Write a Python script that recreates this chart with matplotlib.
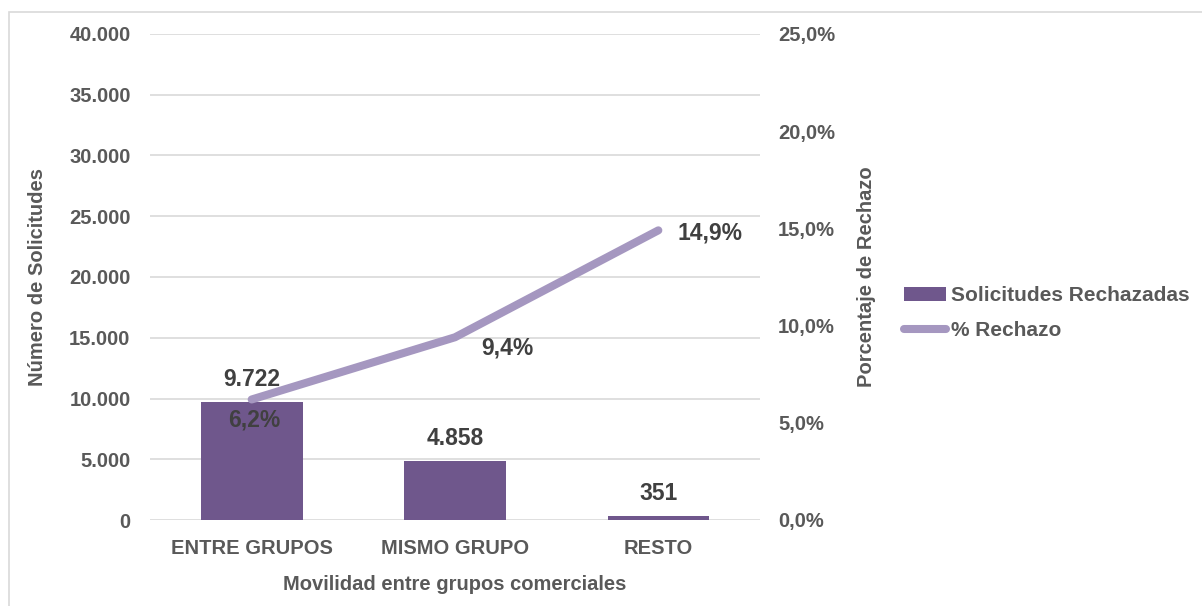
import matplotlib
matplotlib.use('Agg')

import matplotlib.pyplot as plt
from matplotlib.patches import Rectangle
from matplotlib.ticker import FuncFormatter

plt.rcParams['font.family'] = ['Liberation Sans', 'DejaVu Sans']
plt.rcParams['font.weight'] = 'bold'
plt.rcParams['axes.labelweight'] = 'bold'

# data
categories = ['ENTRE GRUPOS', 'MISMO GRUPO', 'RESTO']
rechazadas = [9722, 4858, 351]
pct_rechazo = [6.2, 9.4, 14.9]
left_ticks = [0, 5000, 10000, 15000, 20000, 25000, 30000, 35000, 40000]
right_ticks = [0, 5, 10, 15, 20, 25]

BAR = '#6f578c'
LINE = '#a597c0'
TICK = '#595959'
LABEL = '#404040'
GRID = '#d9d9d9'

W, H = 1202, 606
fig = plt.figure(figsize=(W / 100, H / 100), dpi=100)

# light frame around the chart
fig.patches.append(Rectangle((8.5 / W, -0.05), 1.2, 1.05 - 12 / H,
                             transform=fig.transFigure, fill=False,
                             edgecolor=GRID, lw=1.2))

ax = fig.add_axes([150 / W, (H - 520) / H, 610 / W, 486 / H])
ax2 = ax.twinx()

x = list(range(len(categories)))
bars = ax.bar(x, rechazadas, width=0.5, color=BAR, label='Solicitudes Rechazadas', zorder=2)
ln, = ax2.plot(x, pct_rechazo, color=LINE, lw=5.8, solid_capstyle='round',
               label='% Rechazo', zorder=3)

ax.set_xlim(-0.5, 2.5)
ax.set_ylim(0, 40000)
ax2.set_ylim(0, 25)
ax.set_yticks(left_ticks)
ax2.set_yticks(right_ticks)
ax.yaxis.set_major_formatter(FuncFormatter(lambda v, p: f'{int(v):,}'.replace(',', '.')))
ax2.yaxis.set_major_formatter(FuncFormatter(lambda v, p: f'{v:.1f}%'.replace('.', ',')))
ax.set_xticks(x)
ax.set_xticklabels(categories)

ax.grid(axis='y', color=GRID, lw=1.2, zorder=0)
ax.set_axisbelow(True)
for a in (ax, ax2):
    for s in a.spines.values():
        s.set_visible(False)
    a.tick_params(length=0, labelsize=14.5, labelcolor=TICK)
ax.tick_params(axis='y', pad=14)
ax2.tick_params(axis='y', pad=13)
ax.tick_params(axis='x', pad=14)

ax.set_xlabel('Movilidad entre grupos comerciales', fontsize=14.5, color=TICK,
              fontweight='bold', labelpad=12)
ax.set_ylabel('Número de Solicitudes', fontsize=14.5, color=TICK, fontweight='bold')
ax2.set_ylabel('Porcentaje de Rechazo', fontsize=14.5, color=TICK, fontweight='bold')
ax.yaxis.set_label_coords(-(150 - 47) / 610, 0.5)
ax2.yaxis.set_label_coords((857 - 150) / 610, 0.5)

# data labels
for xi, v in zip(x, rechazadas):
    ax.annotate(f'{v:,}'.replace(',', '.'), (xi, v), xytext=(0, 16), textcoords='offset points',
                ha='center', va='center', fontsize=16.5, color=LABEL)

pct_offsets = [(2, -15), (38, -8), (37, -2)]
for xi, v, off in zip(x, pct_rechazo, pct_offsets):
    ax2.annotate(f'{v:.1f}%'.replace('.', ','), (xi, v), xytext=off, textcoords='offset points',
                 ha='center', va='center', fontsize=16.5, color=LABEL, zorder=4)

fig.legend([bars, ln], ['Solicitudes Rechazadas', '% Rechazo'], loc='center left',
           bbox_to_anchor=(904 / W, 1 - 313 / H), frameon=False, fontsize=15,
           handlelength=2.0, handletextpad=0.25, labelspacing=0.75,
           borderpad=0, borderaxespad=0, labelcolor=TICK)

fig.savefig('out.png', dpi=100, facecolor='white')
